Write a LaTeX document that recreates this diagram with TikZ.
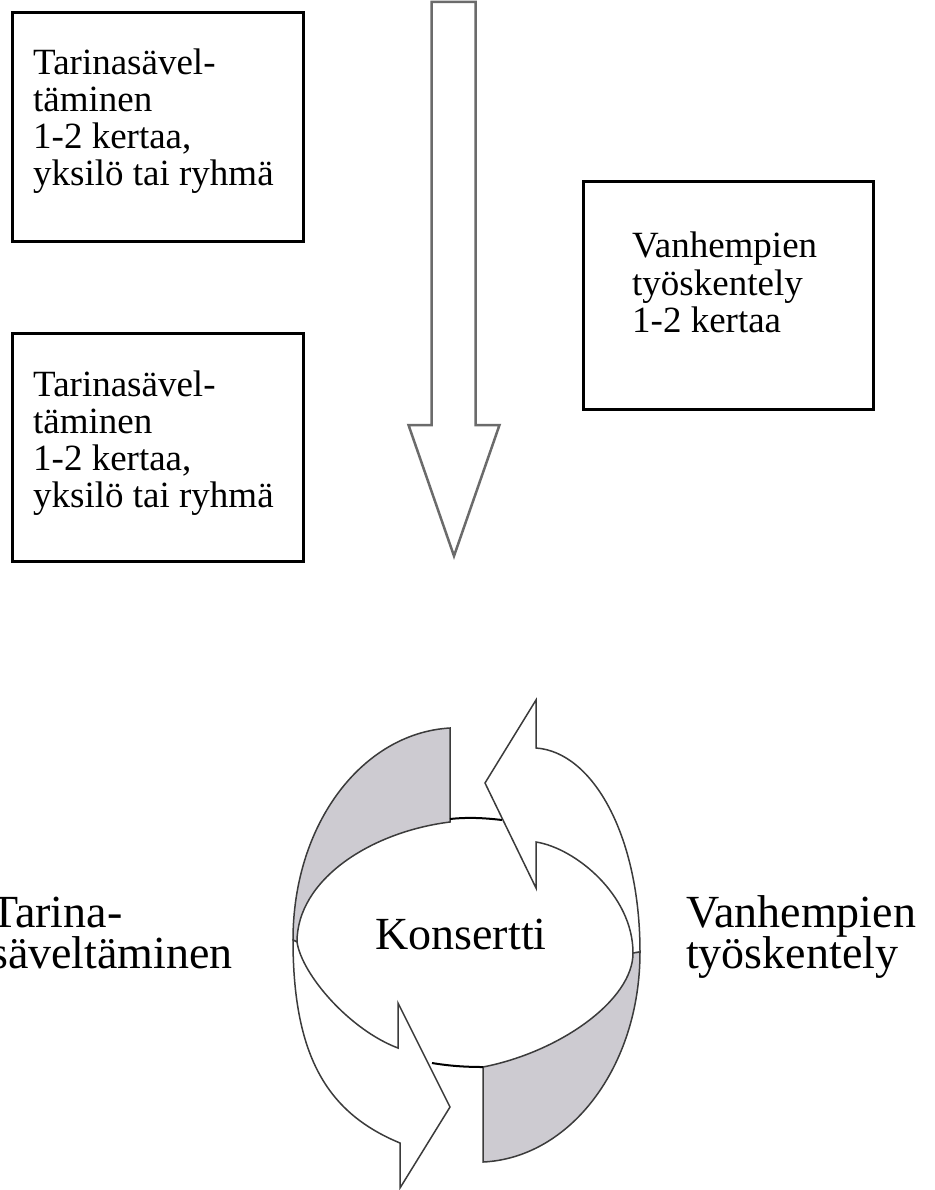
\documentclass[tikz,border=0pt]{standalone}
\usepackage{fontspec}
\setmainfont{Liberation Serif}
\newlength{\du}
\setlength{\du}{10pt}
\definecolor{bandgray}{rgb}{0.804,0.796,0.820}
\definecolor{arrowgray}{rgb}{0.420,0.420,0.420}
\definecolor{ringline}{rgb}{0.230,0.230,0.230}
\tikzset{
  boxline/.style={draw=black,line width=0.30\du},
  bigarrow/.style={draw=arrowgray,fill=white,line width=0.25\du,line join=miter},
  ringwhite/.style={draw=ringline,fill=white,line width=0.15\du,line join=miter},
  ringgray/.style={draw=ringline,fill=bandgray,line width=0.15\du,line join=miter},
  ringedge/.style={draw=black,line width=0.20\du},
  boxtext/.style={anchor=base west,inner sep=0pt,font=\fontsize{37}{37}\selectfont},
  bigtext/.style={anchor=base west,inner sep=0pt,font=\fontsize{46}{46}\selectfont},
}

\begin{document}
\begin{tikzpicture}
\pgftransformxscale{1.000000}
\pgftransformyscale{-1.000000}
\useasboundingbox (0.000000\du,0.000000\du) rectangle (93.400000\du,119.000000\du);
% boxes
\draw[boxline] (1.250000\du,1.250000\du) rectangle (30.350000\du,24.150000\du);
\draw[boxline] (1.250000\du,33.350000\du) rectangle (30.350000\du,56.150000\du);
\draw[boxline] (58.350000\du,18.150000\du) rectangle (87.350000\du,40.950000\du);
\node[boxtext] (tarinaA1) at (3.300000\du,7.500000\du){Tarinasävel-};
\node[boxtext] (tarinaA2) at (3.300000\du,11.200000\du){täminen};
\node[boxtext] (tarinaA3) at (3.300000\du,14.900000\du){1-2 kertaa,};
\node[boxtext] (tarinaA4) at (3.300000\du,18.600000\du){yksilö tai ryhmä};
\node[boxtext] (tarinaB1) at (3.300000\du,39.600000\du){Tarinasävel-};
\node[boxtext] (tarinaB2) at (3.300000\du,43.300000\du){täminen};
\node[boxtext] (tarinaB3) at (3.300000\du,47.000000\du){1-2 kertaa,};
\node[boxtext] (tarinaB4) at (3.300000\du,50.700000\du){yksilö tai ryhmä};
\node[boxtext] (vanhA1) at (63.200000\du,25.800000\du){Vanhempien};
\node[boxtext] (vanhA2) at (63.200000\du,29.500000\du){työskentely};
\node[boxtext] (vanhA3) at (63.200000\du,33.200000\du){1-2 kertaa};
% big down arrow
\draw[bigarrow] (43.150000\du,0.200000\du) -- (43.150000\du,42.500000\du) -- (40.850000\du,42.500000\du)
  -- (45.400000\du,55.600000\du) -- (49.950000\du,42.500000\du) -- (47.550000\du,42.500000\du)
  -- (47.550000\du,0.200000\du) -- cycle;
% circular arrows, left half
\draw[ringgray] (45.000000\du,72.800000\du) .. controls (36.300000\du,73.300000\du) and (29.300000\du,82.300000\du) .. (29.300000\du,94.000000\du)
  -- (29.700000\du,94.200000\du) .. controls (29.700000\du,88.000000\du) and (37.000000\du,83.200000\du) .. (45.000000\du,82.200000\du) -- cycle;
\draw[ringwhite] (29.300000\du,94.000000\du) .. controls (29.300000\du,106.000000\du) and (33.000000\du,111.400000\du) .. (40.000000\du,114.300000\du)
  -- (40.000000\du,118.800000\du) -- (45.000000\du,110.700000\du) -- (39.800000\du,100.300000\du) -- (39.800000\du,104.800000\du)
  .. controls (35.000000\du,103.000000\du) and (30.200000\du,97.500000\du) .. (29.700000\du,94.200000\du) -- cycle;
% circular arrows, right half
\draw[ringwhite] (53.600000\du,74.800000\du) .. controls (59.300000\du,75.200000\du) and (64.000000\du,83.600000\du) .. (64.000000\du,95.200000\du)
  -- (63.300000\du,95.300000\du) .. controls (63.300000\du,89.500000\du) and (57.500000\du,84.800000\du) .. (53.600000\du,84.200000\du)
  -- (53.600000\du,88.800000\du) -- (48.500000\du,78.300000\du) -- (53.600000\du,70.000000\du) -- cycle;
\draw[ringgray] (48.300000\du,116.200000\du) .. controls (57.000000\du,115.800000\du) and (64.000000\du,106.700000\du) .. (64.000000\du,95.200000\du)
  -- (63.300000\du,95.300000\du) .. controls (63.300000\du,100.000000\du) and (56.000000\du,105.200000\du) .. (48.300000\du,106.700000\du) -- cycle;
% ellipse rims between the bands
\draw[ringedge] (45.000000\du,81.900000\du) .. controls (46.800000\du,81.700000\du) and (48.500000\du,81.800000\du) .. (50.200000\du,82.000000\du);
\draw[ringedge] (43.200000\du,106.300000\du) .. controls (45.000000\du,106.600000\du) and (46.600000\du,106.700000\du) .. (48.300000\du,106.700000\du);
\node[bigtext,anchor=base] (konsertti) at (46.100000\du,94.900000\du){Konsertti};
% side labels
\node[bigtext] (tarinaL1) at (-1.000000\du,92.700000\du){Tarina-};
\node[bigtext] (tarinaL2) at (-1.000000\du,96.800000\du){säveltäminen};
\node[bigtext] (vanhR1) at (68.600000\du,92.700000\du){Vanhempien};
\node[bigtext] (vanhR2) at (68.600000\du,96.800000\du){työskentely};
\end{tikzpicture}
\end{document}
